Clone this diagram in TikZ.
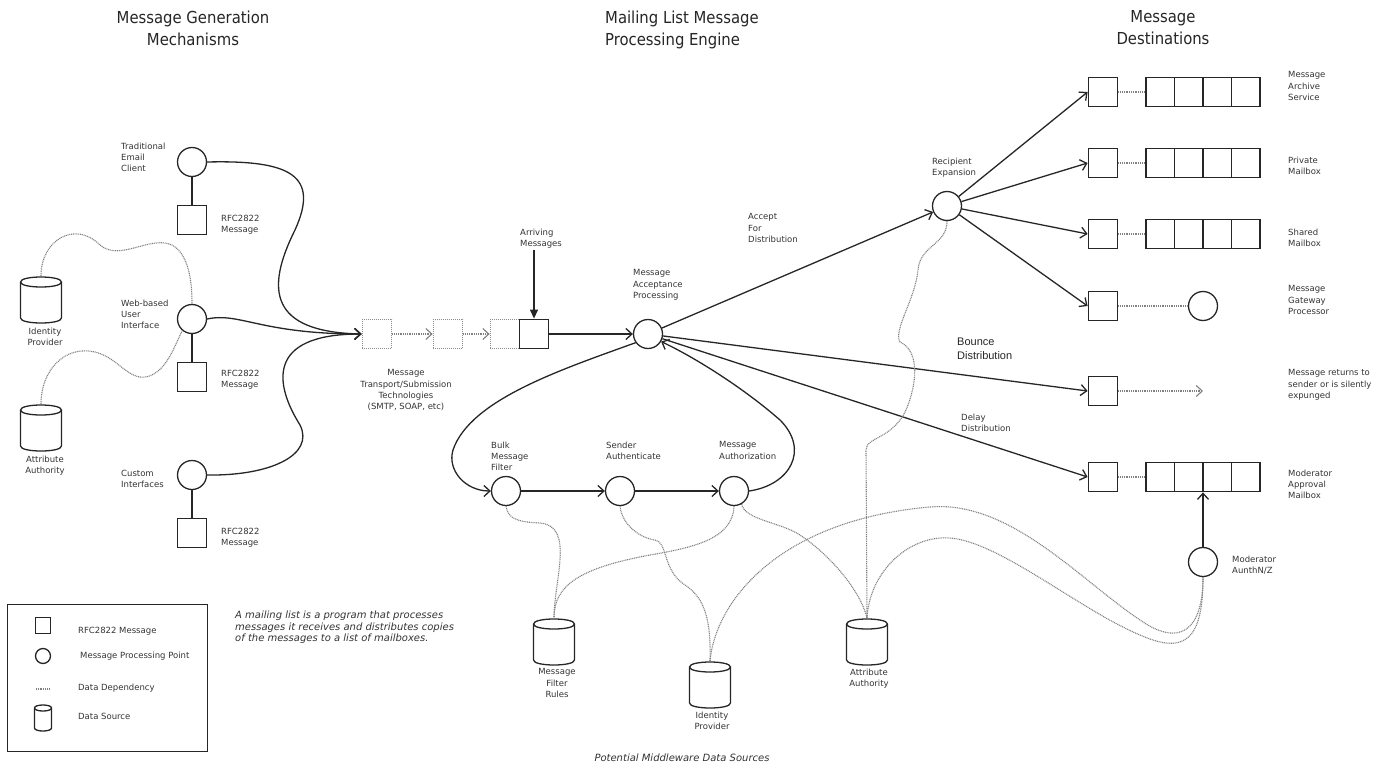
\documentclass[tikz,border=0pt]{standalone}
\usepackage{fontspec}
\setmainfont{DejaVu Sans}
\newfontfamily\titlefont{DejaVu Sans Condensed}
\newfontfamily\bouncefont{Liberation Sans}
\usetikzlibrary{positioning}
\usetikzlibrary{arrows.meta}

\begin{document}
\begin{tikzpicture}[x=1pt, y=-1pt, >={Straight Barb[length=6pt,width=11pt]}, node distance=58pt,
  proc/.style={circle, draw=black!85, line width=1.3pt, minimum size=29pt, inner sep=0pt, fill=white},
  msg/.style={rectangle, draw=black!85, line width=1.3pt, minimum size=29.5pt, inner sep=0pt, fill=white},
  ghost/.style={msg, draw=black!45, dash pattern=on 1pt off 1pt},
  queue/.style={msg, minimum width=114pt, path picture={
      \draw[line width=1.3pt, black!85]
        (path picture bounding box.north) -- (path picture bounding box.south)
        ([xshift=-28.5pt]path picture bounding box.north) -- ([xshift=-28.5pt]path picture bounding box.south)
        ([xshift=28.5pt]path picture bounding box.north) -- ([xshift=28.5pt]path picture bounding box.south);}},
  cylline/.style={draw=black!85, line width=1.3pt, fill=white},
  store/.style={minimum width=43pt, minimum height=48pt, inner sep=0pt, path picture={
      \filldraw[cylline]
        ([shift={(1pt,-6pt)}]path picture bounding box.north west)
        -- ([shift={(1pt,6pt)}]path picture bounding box.south west)
        .. controls ([shift={(1pt,-0.67pt)}]path picture bounding box.south west)
        and ([shift={(-1pt,-0.67pt)}]path picture bounding box.south east)
        .. ([shift={(-1pt,6pt)}]path picture bounding box.south east)
        -- ([shift={(-1pt,-6pt)}]path picture bounding box.north east)
        .. controls ([shift={(-1pt,0.67pt)}]path picture bounding box.north east)
        and ([shift={(1pt,0.67pt)}]path picture bounding box.north west)
        .. cycle;
      \draw[cylline, fill=none]
        ([shift={(1pt,-6pt)}]path picture bounding box.north west)
        .. controls ([shift={(1pt,-12.67pt)}]path picture bounding box.north west)
        and ([shift={(-1pt,-12.67pt)}]path picture bounding box.north east)
        .. ([shift={(-1pt,-6pt)}]path picture bounding box.north east);}},
  smallstore/.style={minimum width=19pt, minimum height=28pt, inner sep=0pt, path picture={
      \filldraw[cylline]
        ([shift={(1pt,-4pt)}]path picture bounding box.north west)
        -- ([shift={(1pt,4pt)}]path picture bounding box.south west)
        .. controls ([shift={(1pt,0pt)}]path picture bounding box.south west)
        and ([shift={(-1pt,0pt)}]path picture bounding box.south east)
        .. ([shift={(-1pt,4pt)}]path picture bounding box.south east)
        -- ([shift={(-1pt,-4pt)}]path picture bounding box.north east)
        .. controls ([shift={(-1pt,0pt)}]path picture bounding box.north east)
        and ([shift={(1pt,0pt)}]path picture bounding box.north west)
        .. cycle;
      \draw[cylline, fill=none]
        ([shift={(1pt,-4pt)}]path picture bounding box.north west)
        .. controls ([shift={(1pt,-8pt)}]path picture bounding box.north west)
        and ([shift={(-1pt,-8pt)}]path picture bounding box.north east)
        .. ([shift={(-1pt,-4pt)}]path picture bounding box.north east);}},
  lbl/.style={font=\fontsize{8.5}{11.3}\selectfont, text=black!80, align=left, inner sep=0pt},
  note/.style={font=\itshape\fontsize{10}{11.7}\selectfont, text=black!80, align=left, inner sep=0pt},
  title/.style={font=\titlefont\fontsize{16.5}{22}\selectfont, text=black!85, inner sep=0pt},
  flow/.style={->, draw=black!85, line width=1.3pt},
  dep/.style={draw=black!50, line width=1.1pt, dash pattern=on 1pt off 0.8pt}]

  \useasboundingbox (0,0) rectangle (1389,768);

  % column titles
  \node[title, align=center, anchor=north] (gentitle) at (193,10.5) {Message Generation\\Mechanisms};
  \node[title, align=left, anchor=north west] (engtitle) at (605,10.5) {Mailing List Message\\Processing Engine};
  \node[title, align=center, anchor=north] (desttitle) at (1163,10.5) {Message\\Destinations};

  % message generation
  \node[proc] (trad) at (192,162) {};
  \node[msg] (rfc1) [below of = trad] {};
  \node[proc] (web) at (192,319) {};
  \node[msg] (rfc2) [below of = web] {};
  \node[proc] (cust) at (192,475) {};
  \node[msg] (rfc3) [below of = cust] {};
  \node[store] (idp1) at (41,300) {};
  \node[store] (aa1) at (41,428) {};

  \node[lbl, anchor=north west] (tradlbl) at (121,142.5) {Traditional\\Email\\Client};
  \node[lbl, anchor=north west] (rfc1lbl) at (221,214.5) {RFC2822\\Message};
  \node[lbl, anchor=north west] (weblbl) at (121,299.5) {Web-based\\User\\Interface};
  \node[lbl, anchor=north west] (rfc2lbl) at (221,369.5) {RFC2822\\Message};
  \node[lbl, anchor=north west] (custlbl) at (121,469.5) {Custom\\Interfaces};
  \node[lbl, anchor=north west] (rfc3lbl) at (221,527.5) {RFC2822\\Message};
  \node[lbl, align=center, anchor=north] (idp1lbl) at (45,327.5) {Identity\\Provider};
  \node[lbl, align=center, anchor=north] (aa1lbl) at (45,455.5) {Attribute\\Authority};

  \draw[flow, -] (trad) -- (rfc1);
  \draw[flow, -] (web) -- (rfc2);
  \draw[flow, -] (cust) -- (rfc3);

  % transport
  \node[ghost] (t1) at (377,334) {};
  \node[ghost] (t2) at (448,334) {};
  \node[ghost] (t3) at (505,334) {};
  \node[msg] (arrive) [right of = t3, node distance=29pt] {};
  \coordinate (arrtop) at (534,250);
  \node[lbl, align=center, anchor=north] (translbl) at (406,369.5) {Message\\Transport/Submission\\Technologies\\(SMTP, SOAP, etc)};
  \node[lbl, anchor=north west] (arrivelbl) at (520,228.5) {Arriving\\Messages};

  \draw[flow] (trad.east) .. controls (290,160) and (320,175) .. (295,230)
    .. controls (265,290) and (270,332) .. (t1.west);
  \draw[flow] (web.east) .. controls (240,312) and (260,334) .. (t1.west);
  \draw[flow] (cust.east) .. controls (270,476) and (315,455) .. (300,425)
    .. controls (275,385) and (265,334) .. (t1.west);
  \draw[dep, ->] (t1) -- (t2);
  \draw[dep, ->] (t2) -- (t3);
  \draw[-{Triangle[length=9pt,width=8pt]}, draw=black!85, line width=1.3pt] (arrtop) -- (arrive.north);

  % processing engine
  \node[proc] (acc) at (648,334) {};
  \node[proc] (bulk) at (506,491) {};
  \node[proc] (sender) [right of = bulk, node distance=114pt] {};
  \node[proc] (authz) [right of = sender, node distance=114pt] {};
  \node[proc] (recip) at (947,206) {};

  \node[lbl, anchor=north west] (acclbl) at (633,269.5) {Message\\Acceptance\\Processing};
  \node[lbl, anchor=north west] (bulklbl) at (491,441.5) {Bulk\\Message\\Filter};
  \node[lbl, anchor=north west] (senderlbl) at (606,441.5) {Sender\\Authenticate};
  \node[lbl, anchor=north west] (authzlbl) at (719,441.5) {Message\\Authorization};
  \node[lbl, anchor=north west] (recipllbl) at (932,157.5) {Recipient\\Expansion};
  \node[lbl, anchor=north west] (accdistlbl) at (748,213.5) {Accept\\For\\Distribution};
  \node[font=\bouncefont\fontsize{11}{14}\selectfont, text=black!85, align=left, inner sep=0pt, anchor=north west]
    (bouncelbl) at (957,338) {Bounce\\Distribution};
  \node[lbl, anchor=north west] (delaylbl) at (961,413.5) {Delay\\Distribution};

  \draw[flow] (arrive) -- (acc);
  \draw[flow] (acc.215) .. controls (560,370) and (470,400) .. (453,450)
    .. controls (447,470) and (465,491) .. (bulk.west);
  \draw[flow] (bulk) -- (sender);
  \draw[flow] (sender) -- (authz);
  \draw[flow] (authz.east) .. controls (790,485) and (810,450) .. (780,420)
    .. controls (740,385) and (690,355) .. (acc.-30);

  % destinations
  \node[msg] (arch) at (1103,92) {};
  \node[queue] (archq) [right of = arch, node distance=100pt] {};
  \node[msg] (priv) at (1103,163) {};
  \node[queue] (privq) [right of = priv, node distance=100pt] {};
  \node[msg] (shared) at (1103,234) {};
  \node[queue] (sharedq) [right of = shared, node distance=100pt] {};
  \node[msg] (gw) at (1103,306) {};
  \node[proc] (gwp) [right of = gw, node distance=100pt] {};
  \node[msg] (bounce) at (1103,391) {};
  \coordinate (bounceend) at (1203,391);
  \node[msg] (mod) at (1103,477) {};
  \node[queue] (modq) [right of = mod, node distance=100pt] {};
  \node[proc] (modauth) [below of = modq, node distance=85pt] {};

  \node[lbl, anchor=north west] (archlbl) at (1288,71.5) {Message\\Archive\\Service};
  \node[lbl, anchor=north west] (privlbl) at (1288,156.5) {Private\\Mailbox};
  \node[lbl, anchor=north west] (sharedlbl) at (1288,228.5) {Shared\\Mailbox};
  \node[lbl, anchor=north west] (gwlbl) at (1288,285.5) {Message\\Gateway\\Processor};
  \node[lbl, anchor=north west] (bouncedlbl) at (1288,369.5) {Message returns to\\sender or is silently\\expunged};
  \node[lbl, anchor=north west] (modlbl) at (1288,469.5) {Moderator\\Approval\\Mailbox};
  \node[lbl, anchor=north west] (modauthlbl) at (1232,555.5) {Moderator\\AunthN/Z};

  \draw[flow] (acc) -- (recip);
  \draw[flow] (acc) -- (bounce.west);
  \draw[flow] (acc) -- (mod.west);
  \draw[flow] (recip) -- (arch.west);
  \draw[flow] (recip) -- (priv.west);
  \draw[flow] (recip) -- (shared.west);
  \draw[flow] (recip) -- (gw.west);
  \draw[dep] (arch) -- (archq);
  \draw[dep] (priv) -- (privq);
  \draw[dep] (shared) -- (sharedq);
  \draw[dep] (gw) -- (gwp);
  \draw[dep, ->] (bounce) -- (bounceend);
  \draw[dep] (mod) -- (modq);
  \draw[flow] (modauth) -- (modq.south);

  % middleware data sources
  \node[store] (mfr) at (554,642) {};
  \node[store] (idp2) at (710,685) {};
  \node[store] (aa2) at (867,642) {};
  \node[lbl, align=center, anchor=north] (mfrlbl) at (557,668.5) {Message\\Filter\\Rules};
  \node[lbl, align=center, anchor=north] (idp2lbl) at (712,711.5) {Identity\\Provider};
  \node[lbl, align=center, anchor=north] (aa2lbl) at (869,668.5) {Attribute\\Authority};
  \node[note] (sourceslbl) at (682,758) {Potential Middleware Data Sources};

  \draw[dep] (idp1.north) .. controls (41,240) and (75,220) .. (100,245)
    .. controls (120,262) and (150,235) .. (172,245) .. controls (190,255) and (192,285) .. (web.north);
  \draw[dep] (aa1.north) .. controls (41,370) and (65,345) .. (95,352)
    .. controls (120,358) and (130,385) .. (152,375) .. controls (168,367) and (175,345) .. (web.230);
  \draw[dep] (bulk.south) .. controls (508,520) and (520,522) .. (540,523)
    .. controls (575,526) and (554,580) .. (mfr.north);
  \draw[dep] (authz.south) .. controls (733,540) and (690,548) .. (650,555)
    .. controls (580,568) and (554,585) .. (mfr.north);
  \draw[dep] (sender.south) .. controls (622,525) and (640,538) .. (655,540)
    .. controls (668,542) and (662,570) .. (685,585) .. controls (705,598) and (711,620) .. (idp2.north);
  \draw[dep] (idp2.north) .. controls (716,600) and (780,520) .. (930,507)
    .. controls (1010,500) and (1080,580) .. (1140,620) .. controls (1180,648) and (1203,630) .. (modauth.south);
  \draw[dep] (aa2.north) .. controls (870,570) and (910,535) .. (950,538)
    .. controls (1000,542) and (1080,610) .. (1140,635) .. controls (1185,655) and (1203,640) .. (modauth.south);
  \draw[dep] (aa2.north) -- (866,450) .. controls (866,436) and (895,440) .. (908,405)
    .. controls (918,378) and (918,350) .. (900,342) .. controls (893,330) and (915,300) .. (918,270)
    .. controls (920,245) and (947,245) .. (recip.south);
  \draw[dep] (authz.-60) .. controls (745,520) and (780,522) .. (800,535)
    .. controls (830,555) and (860,590) .. (aa2.north);

  % legend
  \node[draw=black!85, line width=1.3pt, minimum width=200pt, minimum height=147pt, inner sep=0pt, anchor=north west]
    (legend) at (7,604) {};
  \node[msg, minimum size=15.5pt] (legmsg) at (43,625.5) {};
  \node[proc, minimum size=15pt] (legproc) at (43,656) {};
  \coordinate (legdepa) at (36,689);
  \coordinate (legdepb) at (50,689);
  \node[smallstore] (legstore) at (43,718) {};
  \draw[dep] (legdepa) -- (legdepb);
  \node[lbl, anchor=west] (legmsglbl) at (78,631) {RFC2822 Message};
  \node[lbl, anchor=west] (legproclbl) at (80,656) {Message Processing Point};
  \node[lbl, anchor=west] (legdeplbl) at (78,688) {Data Dependency};
  \node[lbl, anchor=west] (legstorelbl) at (78,716) {Data Source};

  \node[note, anchor=north west] (blurb) at (235,610.5)
    {A mailing list is a program that processes\\messages it receives and distributes copies\\of the messages to a list of mailboxes.};
\end{tikzpicture}
\end{document}
